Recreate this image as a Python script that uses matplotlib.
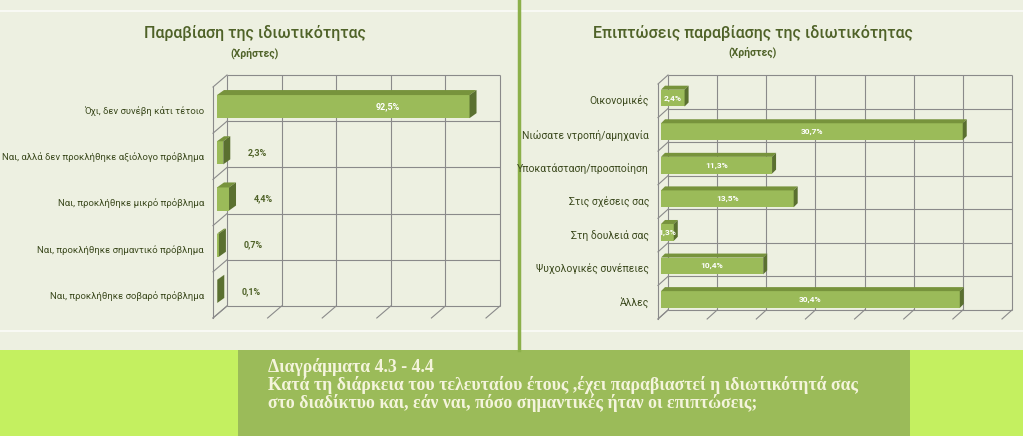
import matplotlib
matplotlib.use("Agg")
import matplotlib.pyplot as plt
import matplotlib.transforms as mtransforms
from matplotlib.patches import Rectangle, Polygon

# ---- data ----
left_title = "Παραβίαση της ιδιωτικότητας"
right_title = "Επιπτώσεις παραβίασης της ιδιωτικότητας"
subtitle = "(Χρήστες)"

left_cats = ["Όχι, δεν συνέβη κάτι τέτοιο",
             "Ναι, αλλά δεν προκλήθηκε αξιόλογο πρόβλημα",
             "Ναι, προκλήθηκε μικρό πρόβλημα",
             "Ναι, προκλήθηκε σημαντικό πρόβλημα",
             "Ναι, προκλήθηκε σοβαρό πρόβλημα"]
left_vals = [92.5, 2.3, 4.4, 0.7, 0.1]

right_cats = ["Οικονομικές",
              "Νιώσατε ντροπή/αμηχανία",
              "Υποκατάσταση/προσποίηση",
              "Στις σχέσεις σας",
              "Στη δουλειά σας",
              "Ψυχολογικές συνέπειες",
              "Άλλες"]
right_vals = [2.4, 30.7, 11.3, 13.5, 1.3, 10.4, 30.4]

caption = ["Διαγράμματα 4.3 - 4.4",
           "Κατά τη διάρκεια του τελευταίου έτους ,έχει παραβιαστεί η ιδιωτικότητά σας",
           "στο διαδίκτυο και, εάν ναι, πόσο σημαντικές ήταν οι επιπτώσεις;"]

W, H = 1023, 436
BG = "#edf0e1"
DARK = "#4f6228"
FRONT = "#9bbb59"
TOP = "#77933c"
SIDE = "#5a7030"
GRID = "#8a8a8a"
SANS = ["Roboto", "DejaVu Sans"]

fig = plt.figure(figsize=(W / 100, H / 100), dpi=100)
fig.patch.set_facecolor(BG)

bg = fig.add_axes([0, 0, 1, 1], zorder=0)
bg.set_xlim(0, W)
bg.set_ylim(H, 0)
bg.axis("off")

# panel decoration
for yy in (11, 331):
    bg.plot([0, W], [yy, yy], color="white", lw=1.2, alpha=0.8)
bg.plot([519, 519], [0, 350], color="#8cb04a", lw=2.5)
bg.add_patch(Rectangle((0, 350), W, H - 350, color="#c4f060", lw=0))
bg.add_patch(Rectangle((238, 350), 910 - 238, H - 350, color="#9bbb59", lw=0))

for yy, line in zip((367, 385, 403), caption):
    bg.text(268, yy, line, fontsize=12.8, family="Liberation Serif",
            weight="bold", color="#f4f4dc", va="center")

# titles
bg.text(255, 33, left_title, fontsize=11.5, family=SANS, color=DARK,
        ha="center", va="center", weight="medium")
bg.text(255, 53, subtitle, fontsize=7.5, family=SANS, color=DARK,
        ha="center", va="center", weight="bold")
bg.text(753, 33, right_title, fontsize=11.5, family=SANS, color=DARK,
        ha="center", va="center", weight="medium")
bg.text(753, 52, subtitle, fontsize=7.5, family=SANS, color=DARK,
        ha="center", va="center", weight="bold")


def px(dx, dy):
    return mtransforms.ScaledTranslation(dx / 100, dy / 100, fig.dpi_scale_trans)


def fmt(v):
    return f"{v:.1f}".replace(".", ",") + "%"


def draw_chart(box, xmax, step, cats, vals, depth, front, thick, outside_below, labsize):
    x0, y0, x1, y1 = box  # front plane in pixels (top-down)
    n = len(cats)
    ax = fig.add_axes([x0 / W, 1 - y1 / H, (x1 - x0) / W, (y1 - y0) / H], zorder=1)
    ax.set_facecolor("none")
    ax.set_xlim(0, xmax)
    ax.set_ylim(n - 0.5, -0.5)
    for s in ax.spines.values():
        s.set_visible(False)
    ax.set_xticks([])
    ax.set_yticks(range(n))
    ax.set_yticklabels(cats, family=SANS, fontsize=labsize, color="#3c4a1e")
    ax.tick_params(axis="y", length=0, pad=6.5)

    sx = xmax / (x1 - x0)
    sy = n / (y1 - y0)
    ticks = list(range(0, xmax + 1, step))
    bounds = [b - 0.5 for b in range(n + 1)]

    # back wall
    back = ax.transData + px(*depth)
    ax.vlines(ticks, -0.5, n - 0.5, color=GRID, lw=0.8, transform=back, clip_on=False, zorder=1)
    ax.hlines(bounds, 0, xmax, color=GRID, lw=0.8, transform=back, clip_on=False, zorder=1)
    # left wall
    ddx, ddy = depth[0] * sx, depth[1] * sy
    ax.plot([0, 0], [-0.5, n - 0.5], color=GRID, lw=0.8, clip_on=False, zorder=1)
    for b in bounds:
        ax.plot([0, ddx], [b, b - ddy], color=GRID, lw=0.8, clip_on=False, zorder=1)
    # floor
    for t in ticks:
        ax.plot([t, t + ddx], [n - 0.5, n - 0.5 - ddy], color=GRID, lw=0.8, clip_on=False, zorder=1)

    # bars
    tr = ax.transData + px(*front)
    tdx, tdy = thick[0] * sx, thick[1] * sy
    h = 0.25
    bars = ax.barh(range(n), vals, height=2 * h, color=FRONT, zorder=3, clip_on=False)
    for i, (p, v) in enumerate(zip(bars, vals)):
        p.set_transform(tr)
        top = Polygon([(0, i - h), (v, i - h), (v + tdx, i - h - tdy), (tdx, i - h - tdy)],
                      closed=True, color=TOP, lw=0, zorder=3, clip_on=False, transform=tr)
        side = Polygon([(v, i - h), (v + tdx, i - h - tdy), (v + tdx, i + h - tdy), (v, i + h)],
                       closed=True, color=SIDE, lw=0, zorder=3, clip_on=False, transform=tr)
        ax.add_patch(top)
        ax.add_patch(side)
        if outside_below is not None and v < outside_below:
            ax.text(v + 12.5, i, fmt(v), transform=tr, fontsize=6.5, family=SANS,
                    weight="bold", color=DARK, ha="center", va="center", zorder=4)
        elif outside_below is not None:
            ax.text(v * 0.675, i, fmt(v), transform=tr, fontsize=6.5, family=SANS,
                    weight="bold", color="white", ha="center", va="center", zorder=4)
        else:
            ax.text(v / 2, i, fmt(v), transform=tr, fontsize=6, family=SANS,
                    weight="bold", color="white", ha="center", va="center", zorder=4)
    return ax


draw_chart((213, 87, 486, 318), 100, 20, left_cats, left_vals,
           depth=(14, 12), front=(4, 3.5), thick=(7, 5), outside_below=50, labsize=6.8)
draw_chart((658, 84, 1002, 319), 35, 5, right_cats, right_vals,
           depth=(10, 9), front=(3, 2.7), thick=(4, 4), outside_below=None, labsize=7.5)

fig.savefig("out.png", dpi=100, facecolor=fig.get_facecolor())
